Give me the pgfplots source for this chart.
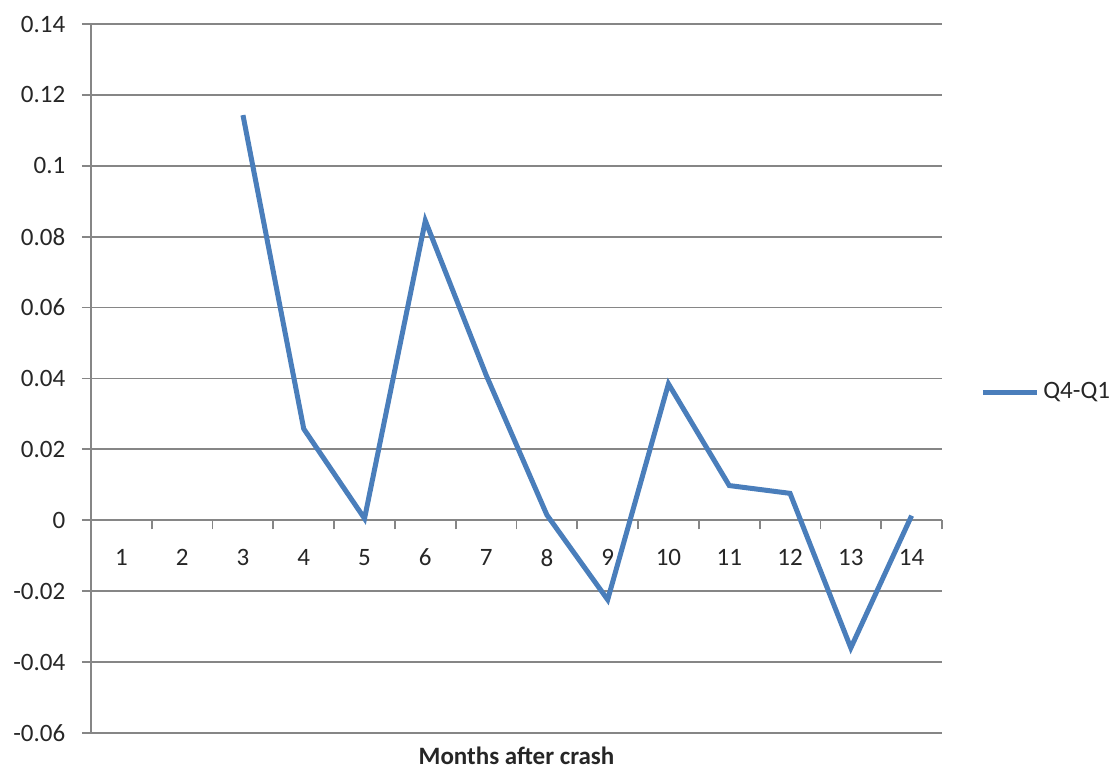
\documentclass[border=0pt]{standalone}
\usepackage{fontspec}
\setmainfont{Carlito}
\usepackage{pgfplots}
\pgfplotsset{compat=1.18}
\definecolor{exblue}{HTML}{4A7EBB}
\definecolor{gridgray}{HTML}{868686}
\begin{document}
\fontsize{12.5}{15}\selectfont
\begin{tikzpicture}
\useasboundingbox (-45.5pt,-18.5pt) rectangle (512pt,366.5pt);
\begin{axis}[
  at={(0,0)}, anchor=south west,
  scale only axis, width=425.5pt, height=354.5pt,
  xmin=0.5, xmax=14.5, ymin=-0.06, ymax=0.14,
  axis y line=left, axis x line=middle,
  axis line style={-, draw=gridgray, line width=0.9pt},
  hide obscured x ticks=false, hide obscured y ticks=false,
  ytick={-0.06,-0.04,-0.02,0,0.02,0.04,0.06,0.08,0.1,0.12,0.14},
  yticklabels={-0.06,-0.04,-0.02,0,0.02,0.04,0.06,0.08,0.1,0.12,0.14},
  xtick={1,2,3,4,5,6,7,8,9,10,11,12,13,14},
  xticklabels={1,2,3,4,5,6,7,8,9,10,11,12,13,14},
  minor xtick={0.5,1.5,2.5,3.5,4.5,5.5,6.5,7.5,8.5,9.5,10.5,11.5,12.5,13.5,14.5},
  major x tick style={draw=none},
  tick style={draw=gridgray, line width=0.9pt},
  major tick length=4.5pt, minor tick length=4.5pt,
  tick align=outside,
  ymajorgrids, grid style={draw=gridgray, line width=0.9pt},
  tick label style={font=\fontsize{12.5}{15}\selectfont, text=black!85},
  yticklabel style={xshift=-4pt},
  xticklabel style={yshift=-5.5pt},
  xlabel={\textbf{Months after crash}},
  xlabel style={at={(rel axis cs:0.5,0)}, anchor=north, yshift=-2.5pt, text=black!85, font=\fontsize{12.5}{15}\selectfont},
  legend style={at={(rel axis cs:1,0.48)}, anchor=west, xshift=16pt, draw=none, fill=none, text=black!85, font=\fontsize{12.5}{15}\selectfont},
  legend image code/.code={\draw[#1, line width=2.5pt] (0pt,0pt) -- (27pt,0pt);},
  clip=false,
]
\addplot[exblue, line width=2.5pt] table {
x y
3 0.1143
4 0.0258
5 0.0005
6 0.0845
7 0.0410
8 0.0015
9 -0.0224
10 0.0385
11 0.0098
12 0.0076
13 -0.0360
14 0.0013
};
\addlegendentry{Q4-Q1}
\end{axis}
\end{tikzpicture}
\end{document}
